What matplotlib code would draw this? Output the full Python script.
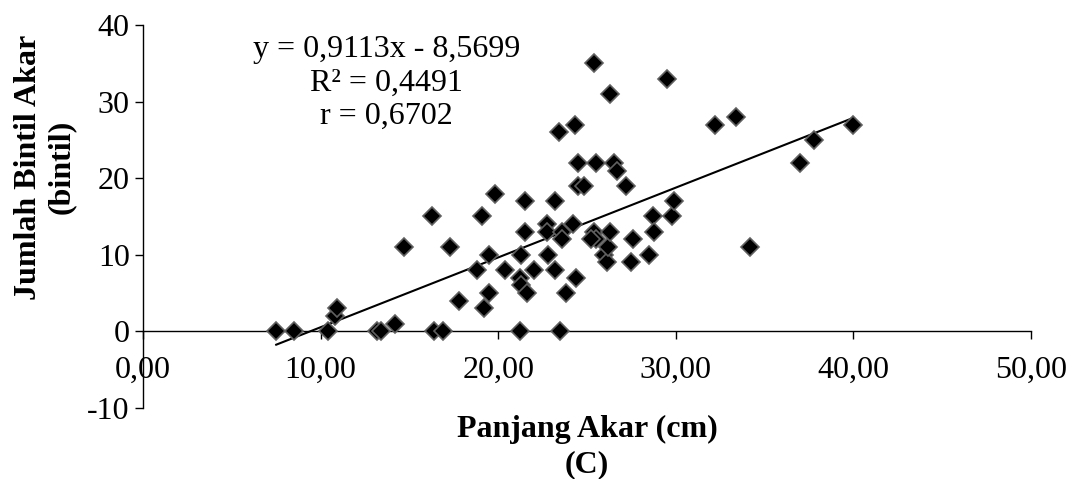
import numpy as np
import matplotlib
matplotlib.use("Agg")
import matplotlib.pyplot as plt

# root length (cm) vs number of root nodules
panjang_akar = [7.5, 8.5, 10.4, 10.8, 10.9, 13.2, 13.4, 14.2, 14.7, 16.3,
                16.4, 16.9, 17.3, 17.8, 18.8, 19.1, 19.2, 19.5, 19.5, 19.8,
                20.4, 21.2, 21.2, 21.3, 21.3, 21.5, 21.5, 21.6, 22.0, 22.75,
                22.75, 22.8, 23.2, 23.2, 23.4, 23.5, 23.6, 23.6, 23.8, 24.2,
                24.3, 24.4, 24.5, 24.5, 24.85, 25.4, 25.4, 25.5, 25.5, 25.2,
                25.95, 26.1, 26.2, 26.3, 26.3, 26.5, 26.7, 27.2, 27.45, 27.6,
                28.5, 28.7, 28.75, 29.5, 29.8, 29.9, 32.2, 33.4, 34.2, 37.0,
                37.8, 40.0]
bintil_akar = [0, 0, 0, 2, 3, 0, 0, 1, 11, 15,
               0, 0, 11, 4, 8, 15, 3, 5, 10, 18,
               8, 0, 7, 6, 10, 17, 13, 5, 8, 14,
               13, 10, 17, 8, 26, 0, 13, 12, 5, 14,
               27, 7, 22, 19, 19, 35, 13, 22, 12, 12,
               10, 9, 11, 31, 13, 22, 21, 19, 9, 12,
               10, 15, 13, 33, 15, 17, 27, 28, 11, 22,
               25, 27]

# trendline as given on the chart
slope = 0.9113
intercept = -8.5699
eq_text = "y = 0,9113x - 8,5699\nR² = 0,4491\nr = 0,6702"

x_ticks = [0, 10, 20, 30, 40, 50]
x_tick_labels = ["0,00", "10,00", "20,00", "30,00", "40,00", "50,00"]
y_ticks = [-10, 0, 10, 20, 30, 40]
y_tick_labels = ["-10", "0", "10", "20", "30", "40"]

plt.rcParams['font.family'] = ['Liberation Serif', 'DejaVu Serif']

fig = plt.figure(figsize=(10.7, 4.79), dpi=100)
ax = fig.add_axes([143/1070, 71/479, 888/1070, 383/479])

ax.plot(panjang_akar, bintil_akar, ls='none', marker='D', markersize=9.5,
        markerfacecolor='black', markeredgecolor='#606060', markeredgewidth=1.2,
        zorder=3)

# trendline across the data range
xs = np.array([min(panjang_akar), max(panjang_akar)])
ax.plot(xs, slope * xs + intercept, color='black', lw=1.5, zorder=2)

ax.set_xlim(0, 50)
ax.set_ylim(-10, 40)
ax.set_xticks(x_ticks)
ax.set_xticklabels(x_tick_labels)
ax.set_yticks(y_ticks)
ax.set_yticklabels(y_tick_labels)

ax.spines['top'].set_visible(False)
ax.spines['right'].set_visible(False)
ax.spines['bottom'].set_position(('data', 0))
for s in ['left', 'bottom']:
    ax.spines[s].set_linewidth(1.0)
ax.tick_params(axis='both', direction='out', length=5.5, width=1.0,
               labelsize=23, colors='black')
ax.tick_params(axis='x', pad=12)
ax.tick_params(axis='y', pad=4)

ax.text(13.7, 32.4, eq_text, ha='center', va='center', multialignment='center',
        fontsize=23, linespacing=1.2)

fig.text(45/1070, 1 - 167/479, "Jumlah Bintil Akar\n(bintil)", rotation=90,
         ha='center', va='center', multialignment='center', fontsize=23,
         fontweight='bold', linespacing=1.2)
fig.text(587/1070, 1 - 447/479, "Panjang Akar (cm)\n(C)", ha='center', va='center',
         multialignment='center', fontsize=23, fontweight='bold', linespacing=1.28)

fig.savefig("out.png", dpi=100)
